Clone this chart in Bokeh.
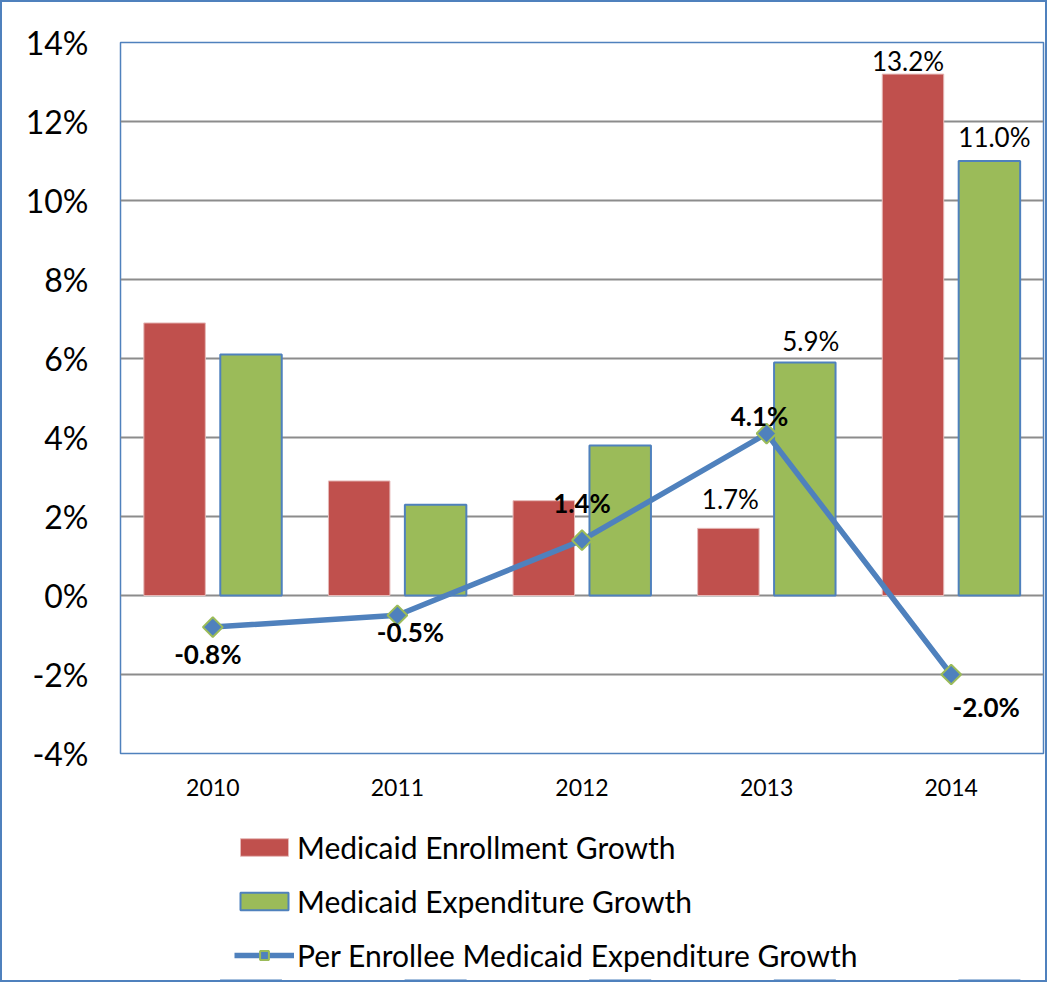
from bokeh.plotting import figure
from bokeh.layouts import column
from bokeh.models import (ColumnDataSource, FactorRange, FixedTicker, PrintfTickFormatter,
                          Legend, LegendItem, Range1d)
from bokeh.transform import dodge
from bokeh.core.properties import value
from bokeh.embed import file_html
from bokeh.resources import INLINE

# ---- data ----
years = ["2010", "2011", "2012", "2013", "2014"]
enrollment_growth = [6.9, 2.9, 2.4, 1.7, 13.2]
expenditure_growth = [6.1, 2.3, 3.8, 5.9, 11.0]
per_enrollee_growth = [-0.8, -0.5, 1.4, 4.1, -2.0]
enrollment_labeled = [False, False, False, True, True]
expenditure_labeled = [False, False, False, True, True]
y_ticks = [-4, -2, 0, 2, 4, 6, 8, 10, 12, 14]
series_names = ["Medicaid Enrollment Growth", "Medicaid Expenditure Growth",
                "Per Enrollee Medicaid Expenditure Growth"]

# ---- styling ----
FONT = "Lato"
RED = "#C0504D"
GREEN = "#9BBB59"
BLUE = "#4F81BD"
BAR_W = 0.333
OFF = 0.207

# label placement (pixels, screen down positive)
enr_dx = [0, 0, 0, 2, -5]
enr_dy = [-24, -24, -24, -29, -13]
exp_dx = [0, 0, 0, 6, 5]
exp_dy = [-22, -22, -22, -21, -24]
line_dx = [-5, 13, 0, -7, 35]
line_dy = [27, 17, -37, -18, 32]

x_range = FactorRange(*years)

src = ColumnDataSource(dict(
    year=years, enr=enrollment_growth, exp=expenditure_growth, per=per_enrollee_growth,
    enr_txt=[f"{v:.1f}%" if s else "" for v, s in zip(enrollment_growth, enrollment_labeled)],
    exp_txt=[f"{v:.1f}%" if s else "" for v, s in zip(expenditure_growth, expenditure_labeled)],
    per_txt=[f"{v:.1f}%" for v in per_enrollee_growth],
    enr_dx=enr_dx, enr_dy=enr_dy, exp_dx=exp_dx, exp_dy=exp_dy,
    line_dx=line_dx, line_dy=line_dy,
))


def add_series(fig):
    r1 = fig.vbar(x=dodge("year", -OFF, range=x_range), top="enr", bottom=0, width=BAR_W,
                  source=src, fill_color=RED, line_color="#E6B9B8", line_width=1)
    r2 = fig.vbar(x=dodge("year", OFF, range=x_range), top="exp", bottom=0, width=BAR_W,
                  source=src, fill_color=GREEN, line_color=BLUE, line_width=2)
    r3 = fig.line(x="year", y="per", source=src, line_color=BLUE, line_width=5.5)
    r4 = fig.scatter(x="year", y="per", source=src, marker="square", angle=0.785398, size=14,
                     fill_color=BLUE, line_color=GREEN, line_width=2)
    return r1, r2, r3, r4


# ---- main chart ----
p = figure(x_range=x_range, y_range=(-4, 14), width=1043, height=806,
           output_backend="svg", toolbar_location=None,
           min_border_left=118, min_border_right=2, min_border_top=40, min_border_bottom=55)
p.outline_line_color = BLUE
p.outline_line_width = 1.5
p.background_fill_color = "white"
p.border_fill_color = "white"

add_series(p)

p.text(x=dodge("year", -OFF, range=x_range), y="enr", text="enr_txt", source=src,
       x_offset="enr_dx", y_offset="enr_dy", text_align="center", text_baseline="middle",
       text_font=value(FONT), text_font_size="26px", text_color="black")
p.text(x=dodge("year", OFF, range=x_range), y="exp", text="exp_txt", source=src,
       x_offset="exp_dx", y_offset="exp_dy", text_align="center", text_baseline="middle",
       text_font=value(FONT), text_font_size="26px", text_color="black")
p.text(x="year", y="per", text="per_txt", source=src,
       x_offset="line_dx", y_offset="line_dy", text_align="center", text_baseline="middle",
       text_font=value(FONT), text_font_size="26px", text_font_style="bold", text_color="black")

p.yaxis.ticker = FixedTicker(ticks=y_ticks)
p.yaxis.formatter = PrintfTickFormatter(format="%d%%")
p.yaxis.major_label_text_font = FONT
p.yaxis.major_label_text_font_size = "32px"
p.yaxis.major_label_standoff = 26
p.xaxis.major_label_text_font = FONT
p.xaxis.major_label_text_font_size = "23px"
p.xaxis.major_label_standoff = 19
for ax in (p.xaxis, p.yaxis):
    ax.axis_line_color = None
    ax.major_tick_line_color = None
    ax.minor_tick_line_color = None
    ax.major_label_text_color = "black"

p.xgrid.grid_line_color = None
p.ygrid.grid_line_color = "#8C8C8C"
p.ygrid.grid_line_width = 2
p.ygrid.ticker = FixedTicker(ticks=y_ticks)

# ---- legend strip (same series, out-of-view range so only the legend shows) ----
pl = figure(x_range=x_range, y_range=Range1d(1000, 1001), width=1043, height=172,
            output_backend="svg", toolbar_location=None,
            x_axis_type=None, y_axis_type=None,
            min_border_left=118, min_border_right=2, min_border_top=0, min_border_bottom=0)
pl.outline_line_color = None
pl.grid.grid_line_color = None
pl.background_fill_color = "white"
pl.border_fill_color = "white"
l1, l2, l3, l4 = add_series(pl)

legend = Legend(items=[
    LegendItem(label=series_names[0], renderers=[l1]),
    LegendItem(label=series_names[1], renderers=[l2]),
    LegendItem(label=series_names[2], renderers=[l3, l4]),
], location=(114, 7), orientation="vertical")
legend.border_line_color = None
legend.background_fill_color = None
legend.background_fill_alpha = 0
legend.label_text_font = FONT
legend.label_text_font_size = "30px"
legend.label_text_color = "black"
legend.glyph_width = 60
legend.glyph_height = 22
legend.label_standoff = 3
legend.spacing = 18
legend.padding = 0
legend.margin = 0
pl.add_layout(legend, "center")

layout = column(p, pl, spacing=0)
layout.styles = {"border": f"2px solid {BLUE}"}

open("out.html", "w").write(file_html(layout, INLINE))
